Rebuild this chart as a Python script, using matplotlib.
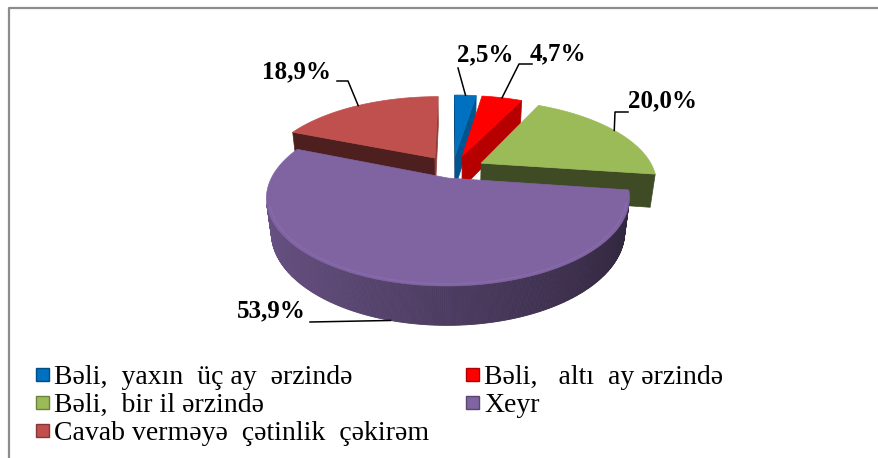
import numpy as np
import matplotlib
matplotlib.use("Agg")
import matplotlib.pyplot as plt
from matplotlib.patches import Polygon, Rectangle
from matplotlib.colors import to_rgb

plt.rcParams["font.family"] = ["Liberation Serif", "DejaVu Serif"]

# ---------------- data ----------------
categories = ["Bəli,  yaxın  üç ay  ərzində",
              "Bəli,   altı  ay ərzində",
              "Bəli,  bir il ərzində",
              "Xeyr",
              "Cavab verməyə  çətinlik  çəkirəm"]
values = [2.5, 4.7, 20.0, 53.9, 18.9]
value_labels = ["2,5%", "4,7%", "20,0%", "53,9%", "18,9%"]

# ---------------- style / layout ----------------
top_colors = ["#0070C0", "#FF0000", "#9BBB59", "#8064A2", "#C0504D"]
explode = [0.19, 0.19, 0.19, 0.10, 0.19]

W, H = 879, 458
CX, CY, S = 452.7, 170.2, 173.0
PHI = np.radians(27.5)
D = 4.0
T = 0.22

# label centers and leader start/elbow (layout)
label_pos = [(485, 55), (558, 54), (663, 101), (271, 311), (297, 72)]
leader_pts = [[(458, 68)],
              [(532, 64), (519, 64)],
              [(628, 112), (615, 112)],
              [(310, 322)],
              [(337, 81), (348, 81)]]

sp, cp = np.sin(PHI), np.cos(PHI)
CAM = np.array([0.0, -D * cp, D * sp])


def proj(X, Y, Z):
    X = np.asarray(X, float); Y = np.asarray(Y, float); Z = np.asarray(Z, float)
    yv = Y * sp + Z * cp
    d = Y * cp - Z * sp
    s = D / (D + d)
    return CX + S * X * s, CY - S * yv * s


def shade(c, f):
    r, g, b = to_rgb(c)
    return (min(r * f, 1), min(g * f, 1), min(b * f, 1))


fig = plt.figure(figsize=(W / 100, H / 100), dpi=100)
ax = fig.add_axes([0, 0, 1, 1])
ax.set_xlim(0, W)
ax.set_ylim(H, 0)
ax.axis("off")

# frame
ax.plot([9, 9, W], [H, 7.5, 7.5], color="#8c8c8c", lw=1.6, solid_capstyle="butt")

# slice angles (start at 12 o'clock, clockwise)
total = sum(values)
cum = np.concatenate([[0], np.cumsum(values)])
slices = []
for i, v in enumerate(values):
    a_start = 90 - 360 * cum[i] / total
    a_end = a_start - 360 * v / total
    mid = np.radians((a_start + a_end) / 2)
    ox, oy = explode[i] * np.cos(mid), explode[i] * np.sin(mid)
    slices.append(dict(i=i, a0=np.radians(a_end), a1=np.radians(a_start),
                       mid=mid, ox=ox, oy=oy))

order = sorted(slices, key=lambda s: -np.sin(s["mid"]))


def visible(nx, ny, px, py, pz):
    return nx * (CAM[0] - px) + ny * (CAM[1] - py) > 0


z = 1
for sl in order:
    i = sl["i"]
    col = top_colors[i]
    ox, oy = sl["ox"], sl["oy"]
    a0, a1 = sl["a0"], sl["a1"]
    # radial walls
    for ang, sign in ((a1, +1), (a0, -1)):
        nang = ang + sign * np.pi / 2
        nx, ny = np.cos(nang), np.sin(nang)
        px, py = ox + 0.5 * np.cos(ang), oy + 0.5 * np.sin(ang)
        if visible(nx, ny, px, py, 0):
            Xs = [ox, ox + np.cos(ang), ox + np.cos(ang), ox]
            Ys = [oy, oy + np.sin(ang), oy + np.sin(ang), oy]
            Zs = [0, 0, -T, -T]
            x, y = proj(Xs, Ys, Zs)
            f = 0.4 + 0.35 * max(0.0, np.cos(nang))
            ax.add_patch(Polygon(np.c_[x, y], closed=True, fc=shade(col, f),
                                 ec=shade(col, f), lw=0.5, zorder=z))
            z += 1
    # outer wall (gradient segments)
    n = max(4, int(np.degrees(a1 - a0) * 2))
    th = np.linspace(a0, a1, n + 1)
    for k in range(n):
        t0, t1 = th[k], th[k + 1]
        tm = 0.5 * (t0 + t1)
        if not visible(np.cos(tm), np.sin(tm), ox + np.cos(tm), oy + np.sin(tm), 0):
            continue
        Xs = [ox + np.cos(t0), ox + np.cos(t1), ox + np.cos(t1), ox + np.cos(t0)]
        Ys = [oy + np.sin(t0), oy + np.sin(t1), oy + np.sin(t1), oy + np.sin(t0)]
        Zs = [0, 0, -T, -T]
        x, y = proj(Xs, Ys, Zs)
        f = 0.6 - 0.22 * np.cos(tm)
        c = shade(col, f)
        ax.add_patch(Polygon(np.c_[x, y], closed=True, fc=c, ec=c, lw=0.6, zorder=z))
    z += 1
    # top face
    tt = np.linspace(a0, a1, 200)
    Xs = np.r_[ox, ox + np.cos(tt)]
    Ys = np.r_[oy, oy + np.sin(tt)]
    x, y = proj(Xs, Ys, np.zeros_like(Xs))
    ax.add_patch(Polygon(np.c_[x, y], closed=True, fc=col, ec=col, lw=0.5, zorder=z))
    z += 1
    # subtle bevel highlight on the front rim
    hv = np.array([visible(np.cos(t), np.sin(t), ox + np.cos(t), oy + np.sin(t), 0) for t in tt])
    if hv.sum() > 5:
        th_v = tt[hv]
        x, y = proj(ox + 0.985 * np.cos(th_v), oy + 0.985 * np.sin(th_v), np.zeros_like(th_v))
        ax.plot(x, y, color=shade(col, 1.12), lw=1.0, alpha=0.5, zorder=z)
        z += 1

# data labels with leader lines
for sl in slices:
    i = sl["i"]
    m = sl["mid"]
    if i == 3:
        ax_, ay_ = proj(sl["ox"] + np.cos(m), sl["oy"] + np.sin(m), -T)
    else:
        ax_, ay_ = proj(sl["ox"] + np.cos(m), sl["oy"] + np.sin(m), 0)
    pts = leader_pts[i] + [(float(ax_), float(ay_))]
    ax.plot([p[0] for p in pts], [p[1] for p in pts], color="black", lw=1.1, zorder=z)
    ax.text(label_pos[i][0], label_pos[i][1], value_labels[i], ha="center", va="center",
            fontsize=18, fontweight="bold", zorder=z + 1)

# legend (manual layout: col1 = blue, green, brown ; col2 = red, purple)
leg_cells = {0: (0, 0), 1: (1, 0), 2: (0, 1), 3: (1, 1), 4: (0, 2)}
col_x = [36, 466]
row_base = [384, 412, 440]
for i, name in enumerate(categories):
    c, r = leg_cells[i]
    ax.add_patch(Rectangle((col_x[c], row_base[r] - 16), 13, 13, fc=top_colors[i],
                           ec=shade(top_colors[i], 0.7), lw=1.0, zorder=z))
    ax.text(col_x[c] + 18, row_base[r], name, ha="left", va="baseline",
            fontsize=20, zorder=z)

fig.savefig("out.png", dpi=100)
